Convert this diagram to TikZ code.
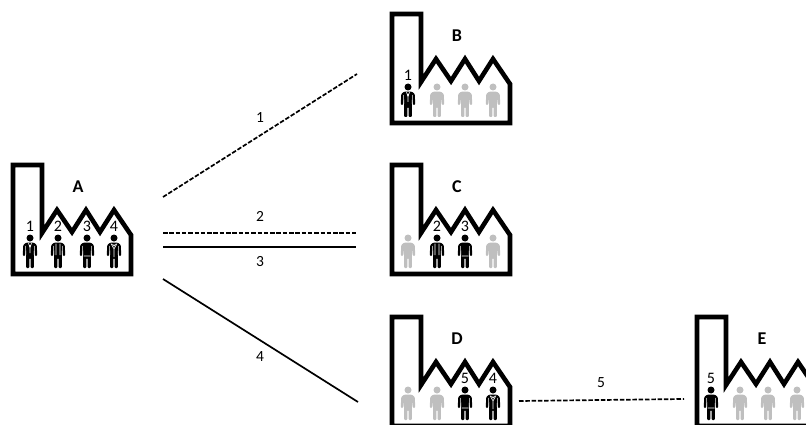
\documentclass[tikz,border=0pt]{standalone}
\usepackage{fontspec}
\setmainfont{Carlito}
\tikzset{
	wall/.style={draw=black,line width=4.6pt,miter limit=10},
	hand/.style={white,line width=0.6pt},
	conn/.style={black,line width=1.7pt},
	conndash/.style={conn,dash pattern=on 4.5pt off 1.8pt},
	numlbl/.style={font=\fontsize{16}{16}\selectfont,inner sep=0pt},
	linklbl/.style={font=\fontsize{15.5}{15.5}\selectfont,inner sep=0pt},
	letter/.style={font=\fontsize{18}{18}\bfseries\selectfont,inner sep=0pt}
}
% person at (#1,75): #2 is the suit, 0 means gray
\newcommand{\person}[2]{
	\begin{scope}[shift={(#1,75)}]
	\ifnum#2=0 \def\pcol{black!25}\else \def\pcol{black}\fi
	\fill[\pcol] (0,0) circle (3.5pt);
	\fill[\pcol,rounded corners=1pt] (-3.8,4.6) -- (3.8,4.6) -- (6.8,7) -- (7.2,18) -- (5,18) -- (4.3,11)
		-- (3.9,19) -- (3.9,30) -- (0.7,30) -- (0.7,20) -- (-0.7,20) -- (-0.7,30) -- (-3.9,30) -- (-3.9,19)
		-- (-4.3,11) -- (-5,18) -- (-7.2,18) -- (-6.8,7) -- cycle;
	\ifcase#2
	\or \draw[hand] (-1.5,5) -- (0,10) -- (1.5,5) (0,7) -- (0,15) (-4.4,8) -- (-4.2,17) (4.4,8) -- (4.2,17);
	\or \draw[hand] (-2,5.5) -- (-2,17) (2,5.5) -- (2,17) (-4.4,8) -- (-4.2,17) (4.4,8) -- (4.2,17);
	\or \draw[hand] (-4.4,8) -- (-4.2,17) (4.4,8) -- (4.2,17) (-3.5,18) -- (3.5,18);
	\or \draw[hand] (-3,5.5) -- (0,11) -- (3,5.5) (-1.5,6) -- (0,8) -- (1.5,6) (-4.4,8) -- (-4.2,17) (4.4,8) -- (4.2,17) (0,11) -- (0,19);
	\fi
	\end{scope}
}
% #1 letter, #2 list of x/suit/number
\newcommand{\factory}[2]{
	\draw[wall] (2,111) -- (2,2) -- (31,2) -- (31,70) -- (46,47) -- (61,69) -- (75,47) -- (89,69) -- (103,47) -- (120,72) -- (120,111) -- cycle;
	\node[letter] (lbl#1) at (67,24) {#1};
	\foreach \x/\s/\n in {#2}
	{
		\person{\x}{\s}
		\ifnum\s>0 \node[numlbl] (num#1\n) at (\x,63) {\n};\fi
	}
}
\begin{document}
\begin{tikzpicture}[x=1pt,y=-1pt]
		\useasboundingbox (0,0) rectangle (806,425);
		\clip (0,0) rectangle (806,425);
		\begin{scope}[shift={(11,163)}]
		\factory{A}{19/1/1,47/2/2,76/3/3,103/4/4}
		\end{scope}
		\begin{scope}[shift={(390,12)}]
		\factory{B}{18/1/1,47/0/0,75/0/0,103/0/0}
		\end{scope}
		\begin{scope}[shift={(390,163)}]
		\factory{C}{18/0/0,47/2/2,75/3/3,103/0/0}
		\end{scope}
		\begin{scope}[shift={(390,315)}]
		\factory{D}{18/0/0,47/0/0,75/3/5,103/4/4}
		\end{scope}
		\begin{scope}[shift={(695,315)}]
		\factory{E}{16/3/5,45/0/0,73/0/0,102/0/0}
		\end{scope}
		\coordinate (a1) at (163,197);
		\coordinate (b1) at (357,74);
		\coordinate (a2) at (163,233);
		\coordinate (c2) at (356,233);
		\coordinate (a3) at (163,247);
		\coordinate (c3) at (356,247);
		\coordinate (a4) at (163,279);
		\coordinate (d4) at (358,402);
		\coordinate (d5) at (519,401);
		\coordinate (e5) at (684,399);
		\draw[conndash] (a1) -- (b1);
		\draw[conndash] (a2) -- (c2);
		\draw[conn] (a3) -- (c3);
		\draw[conn] (a4) -- (d4);
		\draw[conndash] (d5) -- (e5);
		\node[linklbl] (link1) at (260,118) {1};
		\node[linklbl] (link2) at (260,216) {2};
		\node[linklbl] (link3) at (260,262) {3};
		\node[linklbl] (link4) at (260,357) {4};
		\node[linklbl] (link5) at (601,383) {5};
\end{tikzpicture}
\end{document}
